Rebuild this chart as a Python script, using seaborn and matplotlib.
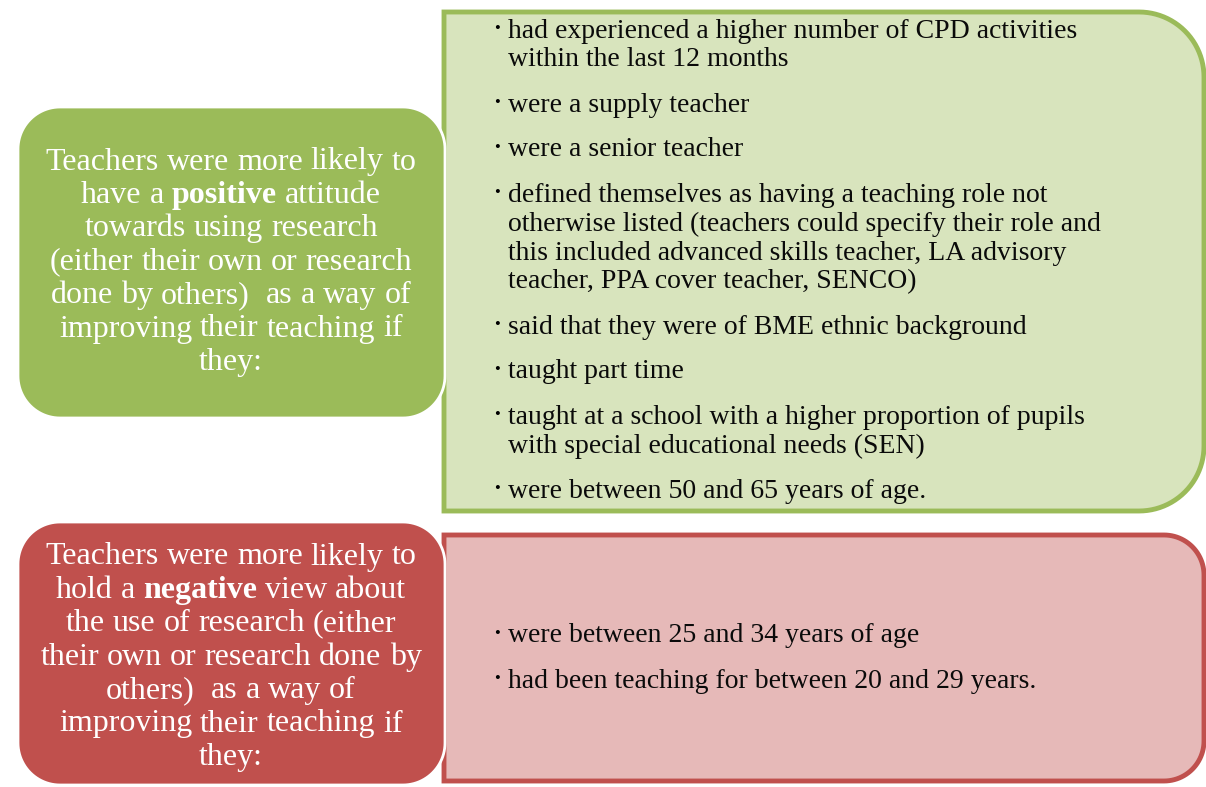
import numpy as np
import matplotlib.pyplot as plt
import seaborn as sns
from matplotlib.path import Path
from matplotlib.patches import PathPatch

sns.set_theme(style="white")
plt.rcParams["font.family"] = ["Liberation Serif", "DejaVu Serif"]

# text content (words between * are bold)
pos_intro = ["Teachers were more likely to",
             "have a *positive* attitude",
             "towards using research",
             "(either their own or research",
             "done by others)  as a way of",
             "improving their teaching if",
             "they:"]
neg_intro = ["Teachers were more likely to",
             "hold a *negative* view about",
             "the use of research (either",
             "their own or research done by",
             "others)  as a way of",
             "improving their teaching if",
             "they:"]
pos_items = [["had experienced a higher number of CPD activities", "within the last 12 months"],
             ["were a supply teacher"],
             ["were a senior teacher"],
             ["defined themselves as having a teaching role not",
              "otherwise listed (teachers could specify their role and",
              "this included advanced skills teacher, LA advisory",
              "teacher, PPA cover teacher, SENCO)"],
             ["said that they were of BME ethnic background"],
             ["taught part time"],
             ["taught at a school with a higher proportion of pupils",
              "with special educational needs (SEN)"],
             ["were between 50 and 65 years of age."]]
neg_items = [["were between 25 and 34 years of age"],
             ["had been teaching for between 20 and 29 years."]]

green, green_light = "#9BBB59", "#D8E4BD"
red, red_light = "#C0504D", "#E6B9B8"

fig = plt.figure(figsize=(12.06, 7.87), dpi=100)
ax = fig.add_axes([0, 0, 1, 1])
ax.set_xlim(0, 1206)
ax.set_ylim(787, 0)
ax.axis("off")
renderer = fig.canvas.get_renderer()


def rounded_box(x0, y0, x1, y1, radii, **kw):
    tl, tr, br, bl = radii
    pts = []
    for (cx, cy, r, a0) in [(x0 + tl, y0 + tl, tl, 180), (x1 - tr, y0 + tr, tr, 270),
                            (x1 - br, y1 - br, br, 0), (x0 + bl, y1 - bl, bl, 90)]:
        t = np.radians(np.linspace(a0, a0 + 90, 25))
        pts += list(zip(cx + r * np.cos(t), cy + r * np.sin(t)))
    pts.append(pts[0])
    codes = [Path.MOVETO] + [Path.LINETO] * (len(pts) - 2) + [Path.CLOSEPOLY]
    ax.add_patch(PathPatch(Path(pts, codes), **kw))


def rich_line(line, xc, y, size):
    # lay out word by word so the bold word can sit inside the line
    tokens = []
    for w in line.split(" "):
        if w.startswith("*") and w.endswith("*") and len(w) > 1:
            tokens.append((w.strip("*"), "bold"))
        else:
            tokens.append((w, "normal"))
    probe = ax.text(0, 0, "a a", fontsize=size)
    probe1 = ax.text(0, 0, "aa", fontsize=size)
    space = probe.get_window_extent(renderer).width - probe1.get_window_extent(renderer).width
    probe.remove(); probe1.remove()
    arts, widths = [], []
    for w, wt in tokens:
        t = ax.text(0, y, w, fontsize=size, fontweight=wt, color="white", va="center")
        arts.append(t)
        widths.append(t.get_window_extent(renderer).width if w else 0)
    total = sum(widths) + space * (len(tokens) - 1)
    x = xc - total / 2
    for t, w in zip(arts, widths):
        t.set_x(x)
        x += w + space


# boxes
rounded_box(444, 12, 1204, 511, (0, 65, 65, 0), facecolor=green_light, edgecolor=green, lw=3.5)
rounded_box(444, 535, 1204, 781, (0, 40, 40, 0), facecolor=red_light, edgecolor=red, lw=3.5)
rounded_box(18, 107, 445, 418, (42, 42, 42, 42), facecolor=green, edgecolor="white", lw=2)
rounded_box(18, 522, 445, 785, (42, 42, 42, 42), facecolor=red, edgecolor="white", lw=2)

# left statements
for lines, y0 in [(pos_intro, 162), (neg_intro, 557)]:
    step = 33.4
    for i, line in enumerate(lines):
        rich_line(line, 231, y0 + i * step, 23)


def bullets(items, y0):
    y = y0
    for item in items:
        ax.text(494, y - 2, "•", fontsize=12, va="center", color="black")
        for j, line in enumerate(item):
            ax.text(508, y + j * 29, line, fontsize=20, va="center", color="#0a0a0a")
        y += (len(item) - 1) * 29 + 45


bullets(pos_items, 31)
bullets(neg_items, 636)

fig.savefig("out.png", dpi=100, facecolor="white")
